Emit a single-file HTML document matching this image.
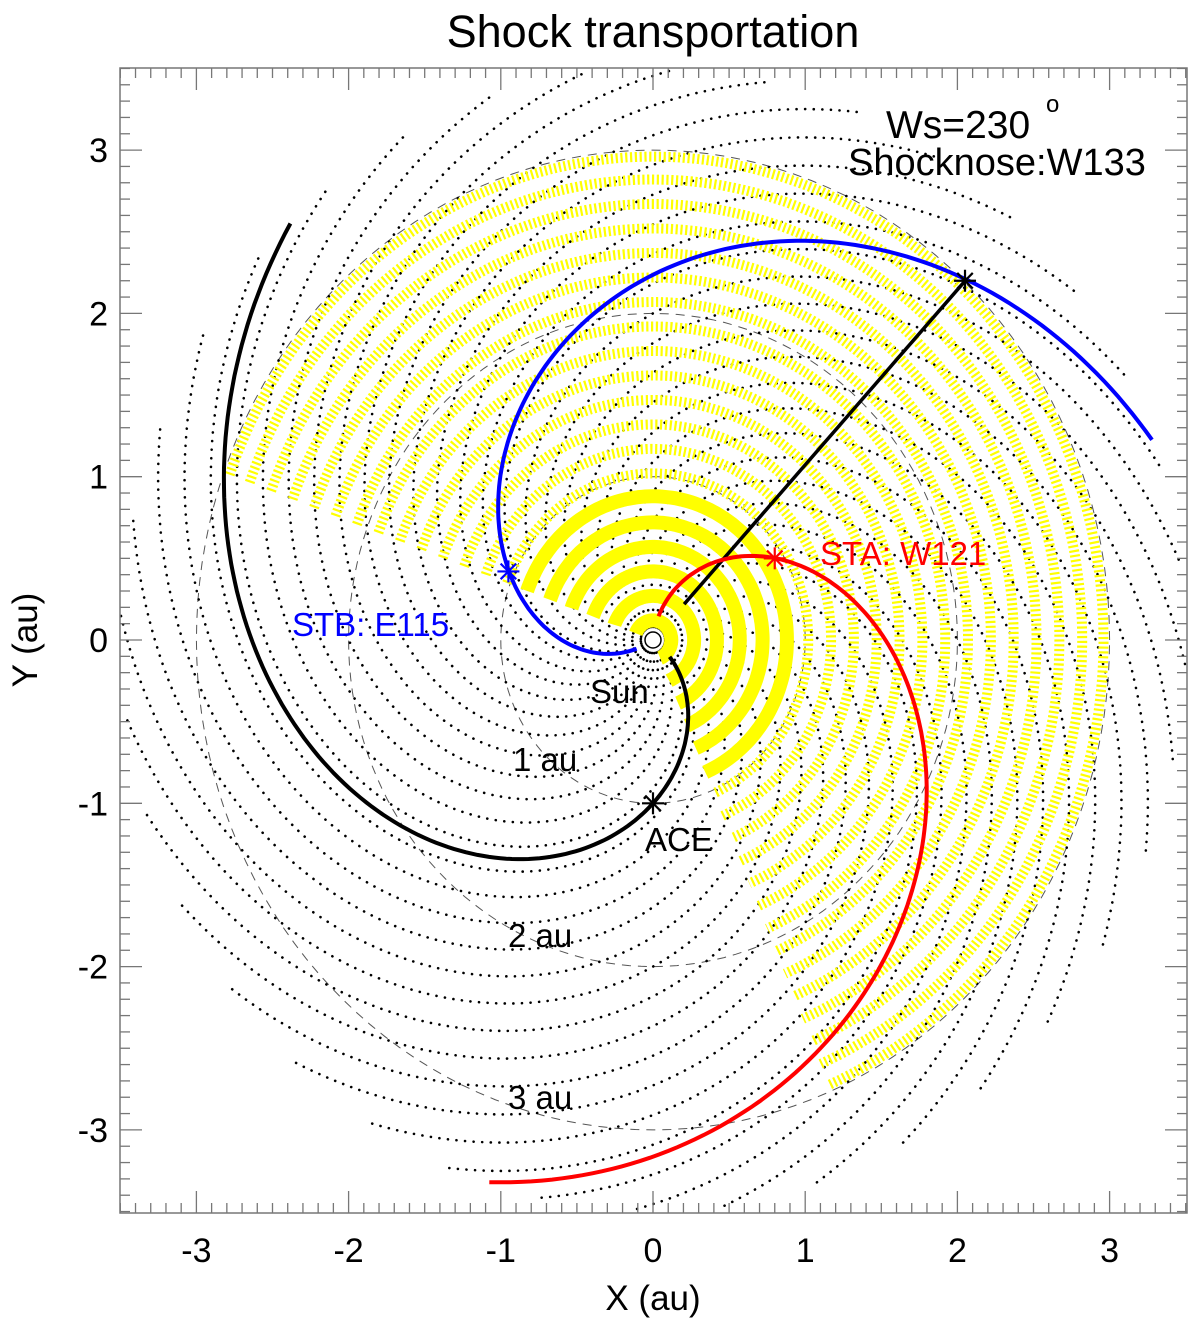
<!DOCTYPE html>
<html><head><meta charset="utf-8"><style>
html,body{margin:0;padding:0;background:#fff;}
svg text{font-family:"Liberation Sans",Arial,sans-serif;}
</style></head><body>
<svg id="chart" width="1200" height="1326" viewBox="0 0 1200 1326" xmlns="http://www.w3.org/2000/svg">
<defs><clipPath id="plotclip"><rect x="120" y="68" width="1067" height="1145"/></clipPath></defs>
<rect x="0" y="0" width="1200" height="1326" fill="#fff"/>
<g id="plot" clip-path="url(#plotclip)"></g>
<g id="axes"></g>
<text x="653" y="47" font-size="45" text-anchor="middle">Shock transportation</text>
<text x="653" y="1310" font-size="35" text-anchor="middle">X (au)</text>
<text x="0" y="0" font-size="35" text-anchor="middle" transform="translate(37,640) rotate(-90)">Y (au)</text>
<text x="886" y="138" font-size="39">Ws=230</text>
<text x="1046" y="112" font-size="24">o</text>
<text x="848" y="175" font-size="38">Shocknose:W133</text>
<text x="292" y="636" font-size="33" fill="#0000ff">STB: E115</text>
<text x="820" y="565" font-size="33" fill="#ff0000">STA: W121</text>
<text x="590" y="703" font-size="33">Sun</text>
<text x="513" y="771" font-size="33">1 au</text>
<text x="645" y="851" font-size="33">ACE</text>
<text x="508" y="947" font-size="33">2 au</text>
<text x="508" y="1109" font-size="33">3 au</text>
</svg>
<script>
const xTicks=[-3,-2,-1,0,1,2,3];
const yTicks=[-3,-2,-1,0,1,2,3];
const spiralOffsets=[];for(let k=0;k<36;k++)spiralOffsets.push(k*10);
const shockRadii=[0.12,0.27,0.42,0.57,0.72,0.88,1.02,1.17,1.32,1.47,1.62,1.77,1.92,2.07,2.22,2.37,2.52,2.67,2.82,2.96];
const shockStartDeg=160, shockEndDeg=-67, solidLimit=0.95;
const refCircles=[1,2,3];
const spiralRate=55;
const blackPhi0=-35, bluePhi0=213, redPhi0=84;
const stars=[[0,-1],[-0.95,0.42],[0.8,0.5],[2.05,2.2]];
const starColors=['#000','#0000ff','#ff0000','#000'];
const noseDeg=47, noseR=3.0;

const X=v=>653+v*152.2, Y=v=>640-v*163.3;
const NS='http://www.w3.org/2000/svg';
const plot=document.getElementById('plot'), axes=document.getElementById('axes');
function mk(tag,attrs,parent){const e=document.createElementNS(NS,tag);for(const k in attrs)e.setAttribute(k,attrs[k]);parent.appendChild(e);return e;}
function spiralPath(phi0,r0,r1){let d='';for(let r=r0;r<=r1+1e-9;r+=0.02){const p=(phi0-spiralRate*r)*Math.PI/180;d+=(d?'L':'M')+X(r*Math.cos(p)).toFixed(1)+','+Y(r*Math.sin(p)).toFixed(1);}return d;}
function arcPath(r,a0,a1){let d='';const n=160;for(let i=0;i<=n;i++){const a=(a0+(a1-a0)*i/n)*Math.PI/180;d+=(d?'L':'M')+X(r*Math.cos(a)).toFixed(1)+','+Y(r*Math.sin(a)).toFixed(1);}return d;}

refCircles.forEach(r=>{
 const c=mk('path',{d:arcPath(r,0,360),fill:'none',stroke:'#555','stroke-width':1,'stroke-dasharray':'9 7'},plot);
 
 
});
spiralOffsets.forEach(o=>{
 const s=mk('path',{d:spiralPath(o,0.08,3.5),fill:'none',stroke:'#000','stroke-width':2.6,'stroke-linecap':'round','stroke-dasharray':'0.1 8.5'},plot);
 
 
});
shockRadii.forEach(r=>{
 const solid=r<solidLimit;
 const a=mk('path',{d:arcPath(r,shockStartDeg,shockEndDeg),fill:'none',stroke:'#ffff00','stroke-width':solid?14:10,'stroke-dasharray':solid?'none':'2.2 2.6'},plot);
 
 
});
{const p=noseDeg*Math.PI/180;
 const l=mk('line',{x1:X(0.3*Math.cos(p)),y1:Y(0.3*Math.sin(p)),x2:X(noseR*Math.cos(p)),y2:Y(noseR*Math.sin(p)),stroke:'#000','stroke-width':3.5},plot);
 
 }
[[blackPhi0,'#000','ace-field-line',0.15],[bluePhi0,'#0000ff','stb-field-line',0.12],[redPhi0,'#ff0000','sta-field-line',0.15]].forEach(([p0,c,n,r0])=>{
 const s=mk('path',{d:spiralPath(p0,r0,3.5),fill:'none',stroke:c,'stroke-width':4},plot);
 
 
});
stars.forEach((s,i)=>{
 const g=mk('g',{stroke:starColors[i],'stroke-width':2.2},plot);
 
 
 const cx=X(s[0]),cy=Y(s[1]),L=11;
 [0,45,90,135].forEach(a=>{const t=a*Math.PI/180;mk('line',{x1:cx-L*Math.cos(t),y1:cy-L*Math.sin(t),x2:cx+L*Math.cos(t),y2:cy+L*Math.sin(t)},g);});
});
{const s=mk('circle',{cx:X(0),cy:Y(0),r:8,fill:'#fff',stroke:'#000','stroke-width':1.5},plot);
 
 }
{const b=mk('rect',{x:120,y:68,width:1067,height:1145,fill:'none',stroke:'#777','stroke-width':1.5},axes);
 
 }
for(let i=-35;i<=35;i++){
 const v=i/10,maj=(i%10===0),L=maj?22:10;
 const x=X(v),y=Y(v);
 mk('line',{x1:x,y1:1213,x2:x,y2:1213-L,stroke:'#777','stroke-width':1.3},axes);
 mk('line',{x1:x,y1:68,x2:x,y2:68+L,stroke:'#777','stroke-width':1.3},axes);
 mk('line',{x1:120,y1:y,x2:120+L,y2:y,stroke:'#777','stroke-width':1.3},axes);
 mk('line',{x1:1187,y1:y,x2:1187-L,y2:y,stroke:'#777','stroke-width':1.3},axes);
}
xTicks.forEach(v=>{const t=mk('text',{x:X(v),y:1262,'font-size':34,'text-anchor':'middle'},axes);t.textContent=String(v);
 
 });
yTicks.forEach(v=>{const t=mk('text',{x:108,y:Y(v)+12,'font-size':34,'text-anchor':'end'},axes);t.textContent=String(v);
 
 });
</script>
</body></html>
